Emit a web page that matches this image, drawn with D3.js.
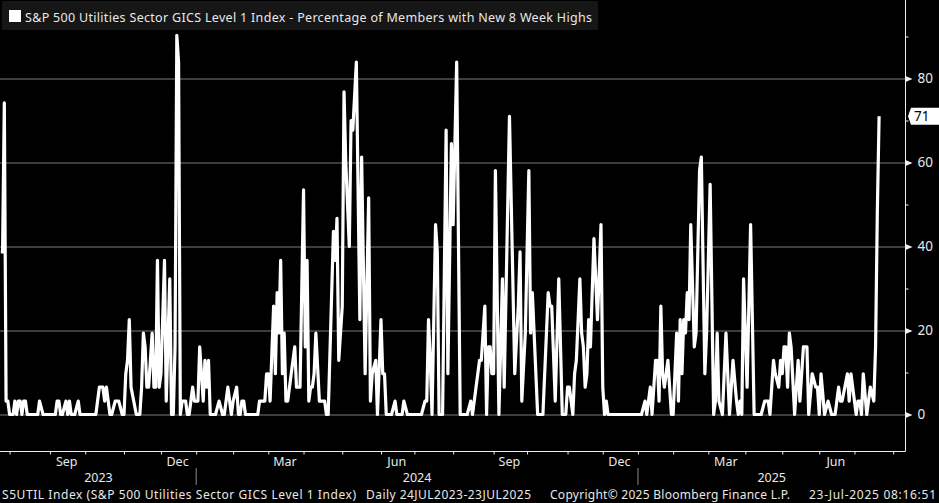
<!DOCTYPE html>
<html>
<head>
<meta charset="utf-8">
<script src="https://cdn.jsdelivr.net/npm/d3@7"></script>
<style>
  html, body { margin: 0; padding: 0; background: #000; overflow: hidden; }
  svg { display: block; }
  text { font-family: "Noto Sans", "Open Sans", sans-serif; fill: #e8e8e8; }
  .domain { stroke: #f0f0f0; }
</style>
</head>
<body>
<svg id="chart" width="939" height="503"></svg>
<script>
// trading session number, counted from 24 Jul 2023 (only the turning points)
const sessions = [
  0,1,2,3,4,5,7,8,9,10,11,12,13,14,15,
  21,22,24,31,32,33,34,35,37,38,39,40,42,44,45,
  54,56,58,59,60,62,63,65,67,69,70,71,72,73,74,
  77,79,80,81,82,83,84,85,86,87,88,89,90,91,93,
  94,96,97,98,99,100,101,102,103,105,106,107,108,109,110,
  112,113,115,116,117,118,119,122,124,126,127,129,131,132,134,
  135,136,137,138,139,146,147,150,151,152,153,155,156,157,158,
  159,160,161,162,163,165,166,167,168,170,172,173,174,175,176,
  177,178,179,181,184,185,186,189,190,191,192,194,195,196,198,
  199,200,202,204,205,207,209,210,211,213,214,216,217,218,219,
  222,224,225,228,229,231,239,241,242,243,244,245,247,248,249,
  251,253,254,256,257,259,261,265,267,268,270,272,273,275,276,
  277,278,279,280,281,283,285,286,289,292,294,295,296,298,300,
  301,302,305,308,311,312,313,315,317,319,321,322,323,325,326,
  327,329,330,331,332,333,334,335,337,339,341,342,343,344,345,
  364,366,367,369,370,372,373,374,375,376,377,379,381,382,384,
  385,386,387,388,389,390,391,392,394,395,397,398,400,401,403,
  405,406,407,408,410,412,414,416,418,419,420,421,422,424,426,
  428,432,434,436,437,439,440,442,443,444,445,446,447,448,449,
  451,453,454,456,457,458,459,461,463,464,465,466,468,470,472,
  474,476,477,478,481,482,483,485,486,487,488,489,490,492,494,
  496,497,498,499
];

// percentage of members with new 8 week highs, same order as sessions
const pctMembers = [
  38.7,38.7,74.2,3.2,3.2,0,0,3.2,0,3.2,3.2,0,3.2,3.2,0,
  0,3.2,0,0,3.2,3.2,0,0,3.2,0,3.2,0,0,3.2,0,
  0,6.5,6.5,3.2,6.5,0,0,3.2,3.2,0,0,9.7,12.9,22.6,6.5,
  0,0,6.5,19.4,16.1,6.5,6.5,12.9,19.4,6.5,6.5,36.7,6.5,9.7,36.7,
  3.2,32.3,0,0,16.1,90.3,83.9,0,3.2,3.2,0,0,3.2,6.5,3.2,
  3.2,16.1,3.2,12.9,6.5,12.9,0,0,3.2,0,0,6.5,0,3.2,6.5,
  0,0,3.2,3.2,0,0,3.2,3.2,9.7,9.7,3.2,25.8,9.7,29,19.4,
  36.7,9.7,19.4,3.2,3.2,9.7,12.9,16.1,6.5,6.5,53.5,16.1,36.7,3.2,6.5,
  6.5,9.7,19.4,3.2,3.2,0,0,43.6,36.7,46.7,12.9,25.8,76.8,60,40,
  70,67.7,83.9,22.6,61.3,9.7,51.6,3.2,9.7,12.9,0,22.6,9.7,9.7,0,
  0,3.2,0,0,3.2,0,0,3.2,3.2,22.6,12.9,0,45.2,38.7,0,
  0,67.7,9.7,64.5,45.2,83.9,0,0,3.2,0,6.5,12.9,12.9,25.8,0,
  16.1,16.1,9.7,9.7,58.1,0,32.3,6.5,71,9.7,25.8,38.7,3.2,19.4,58.1,
  19.4,29,0,0,29,25.8,25.8,3.2,32.3,0,0,6.5,6.5,0,9.7,
  12.9,32.3,19.4,16.1,6.5,9.7,22.6,16.1,41.9,22.6,45.2,6.5,0,3.2,0,
  0,3.2,0,6.5,0,12.9,12.9,3.2,25.8,9.7,6.5,12.9,0,0,19.4,
  3.2,22.6,9.7,22.6,19.4,29,22.6,45.2,16.1,19.4,58.1,61.3,9.7,19.4,54.8,
  0,3.2,19.4,3.2,0,19.4,0,12.9,3.2,0,3.2,0,32.3,6.5,45.2,
  0,0,3.2,3.2,0,12.9,9.7,6.5,12.9,9.7,16.1,16.1,6.5,19.4,16.1,
  0,12.9,3.2,16.1,16.1,16.1,0,9.7,6.5,6.5,0,9.7,0,3.2,0,
  0,6.5,3.2,3.2,9.7,3.2,9.7,3.2,0,3.2,3.2,0,9.7,0,6.5,
  3.2,16.1,48.4,71
];

// first session of each month from Aug 2023 to Aug 2025
const monthStarts = [5,28,48,70,91,111,132,152,172,194,216,235,257,280,299,322,342,362,382,402,423,444,465,485,507];
const monthNames = ["Aug","Sep","Oct","Nov","Dec","Jan","Feb","Mar","Apr","May","Jun","Jul","Aug","Sep","Oct","Nov","Dec","Jan","Feb","Mar","Apr","May","Jun","Jul","Aug"];
const labelledMonths = ["Sep","Dec","Mar","Jun"];
const years = ["2023","2024","2025"];
const yearBreaks = [111,362];
const yTicks = [0,10,20,30,40,50,60,70,80,90];
const lastValue = 71;

const titleText = "S&P 500 Utilities Sector GICS Level 1 Index - Percentage of Members with New 8 Week Highs";

const svg = d3.select("#chart");
const plotRight = 905.5, axisBottom = 451.5;

const x = d3.scaleLinear().domain([0, 514]).range([0.8, plotRight]);
const y = d3.scaleLinear().domain([0, 80]).range([414.5, 78.5]);

// grid
svg.append("g").selectAll("line")
  .data(yTicks.filter(d => d % 20 == 0))
  .enter().append("line")
  .attr("x1", 0).attr("x2", plotRight)
  .attr("y1", d => y(d) + 0.5).attr("y2", d => y(d) + 0.5)
  .attr("stroke", "#7d7d7d").attr("stroke-width", 1);

// the series
const line = d3.line().x((d, i) => x(sessions[i])).y(d => y(d));
svg.append("path")
  .datum(pctMembers)
  .attr("d", line)
  .attr("fill", "none")
  .attr("stroke", "#ffffff")
  .attr("stroke-width", 3.2)
  .attr("stroke-linejoin", "round")
  .attr("stroke-linecap", "butt");

// right axis
const yAxis = d3.axisRight(y).tickValues(yTicks).tickSize(3).tickPadding(9)
  .tickFormat(d => d % 20 == 0 ? d : "");
const yG = svg.append("g").attr("transform", `translate(${plotRight},0)`).call(yAxis);
yG.select(".domain").attr("d", `M0,0V${axisBottom}`);
yG.selectAll(".tick line").attr("stroke", "#f0f0f0");
yG.selectAll(".tick text").attr("font-size", 13.5).attr("fill", "#e8e8e8")
  .style("font-family", "'Noto Sans', sans-serif");
yG.selectAll(".tick").filter(d => d % 20 == 0).append("path")
  .attr("d", "M0,-3L7,0L0,3Z").attr("fill", "#f0f0f0");

// bottom axis
const xAxis = d3.axisBottom(x).tickValues(monthStarts).tickSize(3).tickFormat("");
const xG = svg.append("g").attr("transform", `translate(0,${axisBottom})`).call(xAxis);
xG.select(".domain").attr("d", `M0,0H${plotRight}`);
xG.selectAll(".tick line").attr("stroke", "#f0f0f0");

// month labels sit in the middle of their month
monthNames.forEach(function(name, i) {
    if (!labelledMonths.includes(name) || i + 1 >= monthStarts.length) return;
    svg.append("text")
      .attr("x", (x(monthStarts[i]) + x(monthStarts[i + 1])) / 2 - 1)
      .attr("y", 466).attr("text-anchor", "middle").attr("font-size", 12.5)
      .text(name);
});

// year row
const yearEdges = [0, ...yearBreaks, 514];
years.forEach(function(name, i) {
    svg.append("text")
      .attr("x", (x(yearEdges[i]) + x(yearEdges[i + 1])) / 2)
      .attr("y", 482).attr("text-anchor", "middle").attr("font-size", 12.5)
      .text(name);
});
svg.append("g").selectAll("line")
  .data(yearBreaks)
  .enter().append("line")
  .attr("x1", d => x(d)).attr("x2", d => x(d))
  .attr("y1", 468).attr("y2", 485)
  .attr("stroke", "#8a8a8a");

// last price tag
const tagY = y(lastValue);
svg.append("path")
  .attr("d", `M908,${tagY}L911,${tagY - 8.5}H939V${tagY + 8.5}H911Z`)
  .attr("fill", "#ffffff");
svg.append("text")
  .attr("x", 914).attr("y", tagY + 5).attr("font-size", 13.5)
  .style("fill", "#000").text(lastValue);

// title box
svg.append("rect").attr("x", 2).attr("y", 1).attr("width", 596).attr("height", 29).attr("fill", "#161616");
svg.append("rect").attr("x", 9).attr("y", 10).attr("width", 12).attr("height", 12).attr("fill", "#ffffff");
svg.append("text").attr("x", 25).attr("y", 21.5).attr("font-size", 12.5)
  .attr("textLength", 567).attr("lengthAdjust", "spacing").text(titleText);

// footer
const footer = [
  ["S5UTIL Index (S&P 500 Utilities Sector GICS Level 1 Index)", 2, 354],
  ["Daily 24JUL2023-23JUL2025", 366, 165],
  ["Copyright\u00a9 2025 Bloomberg Finance L.P.", 550, 240],
  ["23-Jul-2025 08:16:51", 809, 127]
];
footer.forEach(function(f) {
    svg.append("text").attr("x", f[1]).attr("y", 499).attr("font-size", 12)
      .attr("textLength", f[2]).attr("lengthAdjust", "spacing").text(f[0]);
});
if (sessions.length != pctMembers.length) console.error("length mismatch", sessions.length, pctMembers.length);
</script>
</body>
</html>
